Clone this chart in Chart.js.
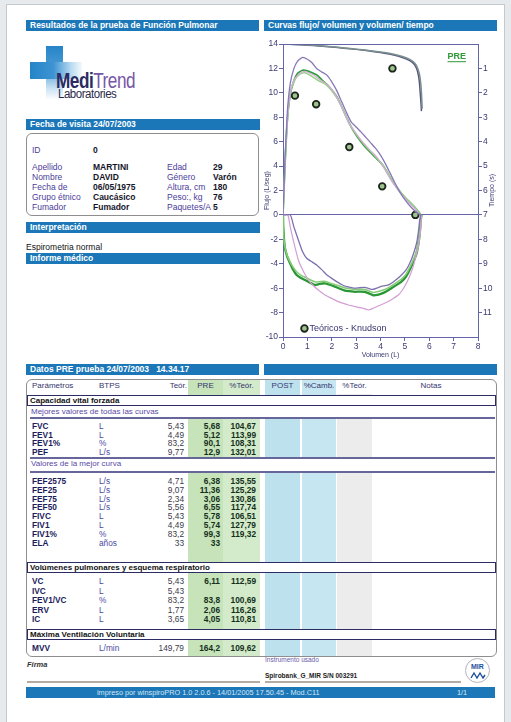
<!DOCTYPE html>
<html><head><meta charset="utf-8">
<script src="https://cdn.jsdelivr.net/npm/chart.js@4.4.1/dist/chart.umd.min.js"></script>
<style>
body{margin:0;background:#e6eaec;width:511px;height:722px;overflow:hidden;font-family:'Liberation Sans',Arial,sans-serif;position:relative;}
#page{position:absolute;left:6px;top:4px;width:499px;height:722px;background:#fff;border:1px solid #c2cad0;box-sizing:border-box;}
.bar{position:absolute;height:11px;background:#1b77b8;color:#fff;font-weight:bold;font-size:8.5px;line-height:11px;padding-left:4px;box-sizing:border-box;white-space:nowrap;}
.t{position:absolute;white-space:nowrap;line-height:10px;font-size:8.5px;}
.lab{color:#4b3d98;}
.val{color:#15152a;font-weight:bold;}
.box{position:absolute;border:1.5px solid #8e8e8e;border-radius:6px;box-sizing:border-box;}
.col{position:absolute;}
.sec{position:absolute;left:27px;width:469px;height:11px;border:1px solid #2c2c64;background:#fff;box-sizing:border-box;font-size:8px;font-weight:bold;color:#111;line-height:9px;padding-left:2px;white-space:nowrap;}
.sub{position:absolute;left:28px;width:467px;background:#fff;font-size:8px;color:#5a4aa6;white-space:nowrap;padding-left:3px;box-sizing:border-box;}
.hl{position:absolute;left:30px;width:465px;height:0;border-top:2px solid #66669a;}
</style></head>
<body>
<div id="page"></div>

<div class="bar" style="left:26px;top:20px;width:233px">Resultados de la prueba de Función Pulmonar</div>
<div class="bar" style="left:264px;top:20px;width:233px">Curvas flujo/ volumen y volumen/ tiempo</div>

<!-- logo -->
<div style="position:absolute;left:46px;top:46px;width:17px;height:54px;background:linear-gradient(180deg,#2585c8 0%,#4a9ad4 40%,#cfe5f4 80%,#fff 100%);"></div>
<div style="position:absolute;left:30px;top:62px;width:52px;height:17px;background:linear-gradient(90deg,#2585c8 0%,#3d93d2 45%,#bcdcf2 80%,#f4f9fd 100%);"></div>
<div style="position:absolute;left:56px;top:70px;font-size:22px;letter-spacing:-0.6px;line-height:22px;font-family:'Liberation Sans',sans-serif;white-space:nowrap;transform:scaleX(0.78);transform-origin:0 0;"><span style="color:#2b2b63;font-weight:bold">Medi</span><span style="color:#7656a6">Trend</span></div>
<div style="position:absolute;left:58px;top:88px;font-size:12.5px;letter-spacing:-0.5px;line-height:12px;color:#2a2a4a;white-space:nowrap;transform:scaleX(0.92);transform-origin:0 0;">Laboratories</div>

<div class="bar" style="left:26px;top:119px;width:234px">Fecha de visita 24/07/2003</div>
<div class="box" style="left:26px;top:133px;width:233px;height:83px"></div>
<div class="t lab" style="left:32px;top:145px">ID</div><div class="t val" style="left:93px;top:145px">0</div>
<div class="t lab" style="left:32px;top:162px">Apellido</div><div class="t val" style="left:93px;top:162px">MARTINI</div>
<div class="t lab" style="left:32px;top:172px">Nombre</div><div class="t val" style="left:93px;top:172px">DAVID</div>
<div class="t lab" style="left:32px;top:182px">Fecha de</div><div class="t val" style="left:93px;top:182px">06/05/1975</div>
<div class="t lab" style="left:32px;top:192px">Grupo étnico</div><div class="t val" style="left:93px;top:192px">Caucásico</div>
<div class="t lab" style="left:32px;top:202px">Fumador</div><div class="t val" style="left:93px;top:202px">Fumador</div>
<div class="t lab" style="left:167px;top:162px">Edad</div><div class="t val" style="left:213px;top:162px">29</div>
<div class="t lab" style="left:167px;top:172px">Género</div><div class="t val" style="left:213px;top:172px">Varón</div>
<div class="t lab" style="left:167px;top:182px">Altura, cm</div><div class="t val" style="left:213px;top:182px">180</div>
<div class="t lab" style="left:167px;top:192px">Peso:, kg</div><div class="t val" style="left:213px;top:192px">76</div>
<div class="t lab" style="left:167px;top:202px">Paquetes/A</div><div class="t val" style="left:213px;top:202px">5</div>

<div class="bar" style="left:26px;top:222px;width:234px">Interpretación</div>
<div class="t" style="left:26px;top:242px;color:#111">Espirometria normal</div>
<div class="bar" style="left:26px;top:253px;width:234px">Informe médico</div>

<canvas id="c" width="242" height="323" style="position:absolute;left:258px;top:36px"></canvas>

<div class="bar" style="left:26px;top:364px;width:233px">Datos PRE prueba 24/07/2003 &nbsp;&nbsp;14.34.17</div>
<div class="bar" style="left:264px;top:364px;width:233px"></div>

<div id="tbl"></div>

<!-- footer -->
<div class="t" style="left:27px;top:660px;font-size:7.5px;font-style:italic;font-weight:bold;color:#333">Firma</div>
<div style="position:absolute;left:27px;top:681px;width:233px;height:0;border-top:2px solid #b4aca4"></div>
<div class="t" style="left:265px;top:655px;font-size:6.5px;color:#6a5aa8">Instrumento usado</div>
<div class="t" style="left:265px;top:671px;font-size:6.5px;font-weight:bold;color:#222">Spirobank_G_MIR S/N 003291</div>
<div style="position:absolute;left:265px;top:681px;width:196px;height:0;border-top:2px solid #b4aca4"></div>
<div style="position:absolute;left:465px;top:658px;width:25px;height:25px;border:1.5px solid #b4b4be;border-radius:50%;box-sizing:border-box;background:#fff"></div>
<div class="t" style="left:471px;top:662px;font-size:7px;font-weight:bold;color:#1e4f9e">MIR</div>
<svg style="position:absolute;left:470px;top:671px" width="16" height="8"><polyline points="1,7 4,2 7,7 10,2 13,7 15,4" fill="none" stroke="#1e4f9e" stroke-width="1.4"/></svg>
<div class="bar" style="left:26px;top:687px;width:469px;font-weight:normal;padding:0"></div>
<div class="t" style="left:97px;top:687px;font-size:7.3px;line-height:11px;color:#d4e6f4">impreso por winspiroPRO 1.0 2.0.6 - 14/01/2005 17.50.45 - Mod.C11</div>
<div class="t" style="left:457px;top:687px;font-size:7.3px;line-height:11px;color:#d4e6f4">1/1</div>

<script>
// ---------- table (page text) ----------
const tblRows1 = [
  ['FVC','L','5,43','5,68','104,67'],
  ['FEV1','L','4,49','5,12','113,99'],
  ['FEV1%','%','83,2','90,1','108,31'],
  ['PEF','L/s','9,77','12,9','132,01']];
const tblRows2 = [
  ['FEF2575','L/s','4,71','6,38','135,55'],
  ['FEF25','L/s','9,07','11,36','125,29'],
  ['FEF75','L/s','2,34','3,06','130,86'],
  ['FEF50','L/s','5,56','6,55','117,74'],
  ['FIVC','L','5,43','5,78','106,51'],
  ['FIV1','L','4,49','5,74','127,79'],
  ['FIV1%','%','83,2','99,3','119,32'],
  ['ELA','años','33','33','']];
const tblRows3 = [
  ['VC','L','5,43','6,11','112,59'],
  ['IVC','L','5,43','',''],
  ['FEV1/VC','%','83,2','83,8','100,69'],
  ['ERV','L','1,77','2,06','116,26'],
  ['IC','L','3,65','4,05','110,81']];
const tblRows4 = [['MVV','L/min','149,79','164,2','109,62']];

(function buildTable(){
  const T = document.getElementById('tbl');
  let h = '';
  const add = s => { h += s; };
  add('<div class="col" style="left:188px;top:380px;width:35px;height:276px;background:#c6e3ba"></div>');
  add('<div class="col" style="left:223px;top:380px;width:37px;height:276px;background:#d3ebca"></div>');
  add('<div class="col" style="left:265px;top:380px;width:35px;height:276px;background:#bde2ee"></div>');
  add('<div class="col" style="left:302px;top:380px;width:34px;height:276px;background:#c6e7f1"></div>');
  add('<div class="col" style="left:337px;top:394px;width:35px;height:262px;background:#ececec"></div>');
  add('<div class="box" style="left:26px;top:379px;width:471px;height:278px"></div>');
  const hc = 'color:#35356e;font-size:8px;';
  const hy = 381;
  add(`<div class="t" style="${hc}left:32px;top:${hy}px">Parámetros</div>`);
  add(`<div class="t" style="${hc}left:99px;top:${hy}px">BTPS</div>`);
  add(`<div class="t" style="${hc}left:128px;top:${hy}px;width:59px;text-align:right">Teór.</div>`);
  add(`<div class="t" style="${hc}left:188px;top:${hy}px;width:35px;text-align:center">PRE</div>`);
  add(`<div class="t" style="${hc}left:223px;top:${hy}px;width:37px;text-align:center">%Teór.</div>`);
  add(`<div class="t" style="${hc}left:265px;top:${hy}px;width:35px;text-align:center">POST</div>`);
  add(`<div class="t" style="${hc}left:300px;top:${hy}px;width:38px;text-align:center">%Camb.</div>`);
  add(`<div class="t" style="${hc}left:337px;top:${hy}px;width:35px;text-align:center">%Teór.</div>`);
  add(`<div class="t" style="${hc}left:410px;top:${hy}px;width:42px;text-align:center">Notas</div>`);
  const sec = (top, txt) => add(`<div class="sec" style="top:${top}px">${txt}</div>`);
  const sub = (top, bottom, txt) => add(`<div class="sub" style="top:${top}px;height:${bottom-top}px;line-height:${bottom-top}px">${txt}</div>`);
  const hl = y => add(`<div class="hl" style="top:${y}px"></div>`);
  const rows = (arr, y0, step) => arr.forEach((r, i) => {
    const y = Math.round((y0 + i*step) - 5);
    add(`<div class="t" style="left:32px;top:${y}px;font-size:8.3px;font-weight:bold;color:#1c1c5c">${r[0]}</div>`);
    add(`<div class="t" style="left:99px;top:${y}px;font-size:8.3px;color:#4a4aa2">${r[1]}</div>`);
    add(`<div class="t" style="left:124px;top:${y}px;width:60px;text-align:right;font-size:8.3px;color:#3a3a4a">${r[2]}</div>`);
    add(`<div class="t" style="left:180px;top:${y}px;width:40px;text-align:right;font-size:8.3px;font-weight:bold;color:#14301a">${r[3]}</div>`);
    add(`<div class="t" style="left:215px;top:${y}px;width:41px;text-align:right;font-size:8.3px;font-weight:bold;color:#14301a">${r[4]}</div>`);
  });
  sec(395, 'Capacidad vital forzada');
  sub(406, 417, 'Mejores valores de todas las curvas');
  hl(417);
  rows(tblRows1, 426, 8.7);
  sub(457, 471, 'Valores de la mejor curva');
  hl(457); hl(471);
  rows(tblRows2, 481, 8.8);
  sec(562, 'Volúmenes pulmonares y esquema respiratorio');
  rows(tblRows3, 581, 9.5);
  sec(629, 'Máxima Ventilación Voluntaria');
  rows(tblRows4, 648, 0);
  T.innerHTML = h;
})();

// ---------- chart data (volume L, flow L/s) ----------
const purpleExp = [[0,0],[0.08,4.5],[0.18,8.5],[0.3,10.8],[0.45,12.0],[0.6,12.6],[0.8,12.9],[1.0,12.75],[1.2,12.45],[1.4,11.95],[1.6,11.7],[1.8,11.45],[2.0,10.9],[2.2,10.2],[2.4,9.3],[2.6,8.4],[2.8,7.6],[3.0,7.2],[3.2,6.8],[3.4,6.35],[3.6,5.9],[3.8,5.45],[4.0,4.9],[4.2,4.2],[4.4,3.4],[4.6,2.6],[4.8,1.85],[5.0,1.25],[5.2,0.75],[5.4,0.35],[5.6,0.05],[5.65,0]];
const greenExp = [[0,0],[0.08,4],[0.18,7.8],[0.3,9.9],[0.45,11.0],[0.6,11.6],[0.8,11.85],[1.0,11.8],[1.2,11.65],[1.4,11.45],[1.6,11.05],[1.8,10.7],[2.0,10.25],[2.2,9.7],[2.4,8.9],[2.6,8.0],[2.8,7.2],[3.0,6.55],[3.2,6.0],[3.4,5.5],[3.6,5.1],[3.8,4.7],[4.0,4.3],[4.2,3.75],[4.4,3.05],[4.6,2.45],[4.8,1.9],[5.0,1.45],[5.2,1.05],[5.4,0.65],[5.6,0.15],[5.65,0]];
const lightGreenExp = [[0,0],[0.1,4.8],[0.2,8.3],[0.32,10.2],[0.5,11.1],[0.7,11.55],[0.9,11.65],[1.1,11.45],[1.3,11.2],[1.5,10.95],[1.7,10.75],[1.9,10.4],[2.1,9.9],[2.3,9.3],[2.5,8.5],[2.7,7.55],[2.9,6.9],[3.1,6.35],[3.3,5.85],[3.5,5.4],[3.7,5.0],[3.9,4.55],[4.1,4.1],[4.3,3.45],[4.5,2.8],[4.7,2.2],[4.9,1.7],[5.1,1.25],[5.3,0.85],[5.5,0.4],[5.65,0]];
const pinkExp = [[0,0],[0.1,5],[0.22,8.8],[0.35,10.5],[0.5,11.2],[0.7,11.6],[0.9,11.75],[1.1,11.6],[1.3,11.4],[1.5,11.1],[1.7,10.85],[1.9,10.5],[2.1,10.0],[2.3,9.3],[2.5,8.4],[2.7,7.5],[2.9,6.95],[3.1,6.4],[3.3,5.9],[3.5,5.45],[3.7,5.05],[3.9,4.6],[4.1,4.0],[4.3,3.3],[4.5,2.65],[4.7,2.1],[4.9,1.6],[5.1,1.15],[5.3,0.75],[5.5,0.3],[5.62,0]];

const purpleInsp = [[0,0],[0.3,0],[0.45,-1.0],[0.63,-2.05],[0.8,-3.0],[0.97,-3.55],[1.15,-3.8],[1.38,-4.1],[1.6,-4.5],[1.79,-4.9],[2.0,-5.2],[2.2,-5.46],[2.4,-5.7],[2.61,-5.87],[2.8,-5.95],[2.95,-6.0],[3.15,-5.95],[3.36,-5.93],[3.55,-6.05],[3.7,-6.09],[3.9,-5.95],[4.11,-5.82],[4.3,-5.75],[4.45,-5.6],[4.65,-5.3],[4.86,-4.92],[5.05,-4.5],[5.2,-3.96],[5.35,-3.2],[5.48,-2.32],[5.56,-1.3],[5.61,-0.4],[5.65,0]];
const greenInsp = [[0,0],[0.01,-0.96],[0.07,-2.6],[0.17,-3.4],[0.29,-3.96],[0.42,-4.5],[0.56,-4.92],[0.72,-5.15],[0.9,-5.33],[1.1,-5.55],[1.31,-5.74],[1.5,-5.65],[1.72,-5.6],[1.92,-5.72],[2.13,-5.87],[2.34,-6.05],[2.54,-6.2],[2.75,-6.25],[2.95,-6.3],[3.15,-6.28],[3.36,-6.3],[3.55,-6.45],[3.7,-6.58],[3.87,-6.55],[4.04,-6.45],[4.25,-6.25],[4.45,-6.0],[4.65,-5.75],[4.86,-5.46],[5.05,-5.05],[5.2,-4.5],[5.35,-3.85],[5.48,-3.14],[5.56,-2.3],[5.61,-1.5],[5.65,-0.5],[5.68,0]];
const lightGreenInsp = [[0,0],[0.01,-1.2],[0.06,-2.4],[0.15,-3.2],[0.28,-3.8],[0.42,-4.3],[0.58,-4.7],[0.75,-4.95],[0.95,-5.15],[1.15,-5.35],[1.35,-5.5],[1.55,-5.45],[1.75,-5.45],[1.95,-5.6],[2.15,-5.72],[2.35,-5.85],[2.55,-5.98],[2.75,-6.05],[2.95,-6.1],[3.15,-6.08],[3.36,-6.12],[3.55,-6.25],[3.7,-6.35],[3.87,-6.3],[4.04,-6.2],[4.25,-6.05],[4.45,-5.82],[4.65,-5.55],[4.86,-5.25],[5.05,-4.85],[5.2,-4.3],[5.35,-3.65],[5.48,-2.95],[5.56,-2.1],[5.62,-1.2],[5.66,-0.4],[5.68,0]];
const pinkInsp = [[0,0],[0.2,0],[0.3,-1.0],[0.42,-2.05],[0.63,-3.69],[0.83,-4.6],[1.04,-5.33],[1.25,-5.8],[1.45,-6.15],[1.65,-6.45],[1.86,-6.7],[2.06,-6.9],[2.27,-7.1],[2.48,-7.25],[2.68,-7.38],[2.9,-7.48],[3.09,-7.57],[3.3,-7.65],[3.5,-7.79],[3.7,-7.65],[3.91,-7.46],[4.1,-7.3],[4.32,-7.1],[4.52,-6.85],[4.73,-6.56],[4.9,-6.15],[5.06,-5.6],[5.2,-5.0],[5.34,-4.23],[5.45,-3.4],[5.55,-2.6],[5.62,-1.7],[5.66,-0.96],[5.68,0]];

// volume (L) vs time (s) on the right axis
const volTime1 = [[0,0],[0.5,0.02],[1.0,0.05],[1.5,0.08],[2.0,0.12],[2.5,0.17],[3.0,0.22],[3.5,0.28],[4.0,0.35],[4.5,0.44],[4.9,0.55],[5.2,0.68],[5.4,0.85],[5.5,1.05],[5.56,1.3],[5.6,1.6],[5.63,2.0],[5.66,2.4],[5.68,2.75]];
const volTime2 = [[0,0],[0.5,0.02],[1.0,0.04],[1.5,0.07],[2.0,0.11],[2.5,0.16],[3.0,0.21],[3.5,0.27],[4.0,0.33],[4.5,0.41],[4.9,0.51],[5.2,0.63],[5.4,0.78],[5.52,0.98],[5.6,1.25],[5.65,1.6],[5.68,2.0],[5.7,2.4],[5.71,2.65]];

// predicted (Knudson) points
const predFlowVol = [[0.49,9.77],[1.36,9.07],[2.72,5.56],[4.07,2.34],[5.43,0]];
const predVolTime = [[4.49,1]];

const axisColor = '#6464a8';
const tickColor = '#3a3a72';
const xy = a => a.map(([x,y]) => ({x,y}));
const line = (d, color, w, axis) => ({data: xy(d), borderColor: color, borderWidth: w, pointRadius: 0, fill: false, tension: 0.15, yAxisID: axis || 'y'});

const decor = {
  id: 'decor',
  afterDraw(chart){
    const {ctx, chartArea: a, scales: {x, y}} = chart;
    ctx.save();
    ctx.strokeStyle = axisColor; ctx.lineWidth = 1;
    ctx.beginPath(); ctx.moveTo(a.left, a.top + 0.5); ctx.lineTo(a.right, a.top + 0.5); ctx.stroke();
    ctx.save();
    ctx.translate(a.right + 14, (a.top + a.bottom) / 2);
    ctx.rotate(-Math.PI / 2);
    ctx.fillStyle = tickColor; ctx.font = '7px "Liberation Sans", Arial';
    ctx.textAlign = 'center'; ctx.textBaseline = 'middle';
    ctx.fillText('Tiempo (s)', 0, 0);
    ctx.restore();
    const lx = x.getPixelForValue(0.88), ly = y.getPixelForValue(-9.3);
    ctx.beginPath(); ctx.arc(lx, ly, 3.3, 0, Math.PI * 2);
    ctx.fillStyle = '#9cc48c'; ctx.fill();
    ctx.lineWidth = 1.8; ctx.strokeStyle = '#1c241c'; ctx.stroke();
    ctx.fillStyle = '#33336e'; ctx.font = '9px "Liberation Sans", Arial';
    ctx.textAlign = 'left'; ctx.textBaseline = 'middle';
    ctx.fillText('Teóricos - Knudson', lx + 5, ly);
    const px = x.getPixelForValue(7.13), py = y.getPixelForValue(13.0);
    ctx.font = 'bold 9px "Liberation Sans", Arial';
    ctx.fillStyle = '#2d9a36'; ctx.textAlign = 'center';
    ctx.fillText('PRE', px, py);
    const w = ctx.measureText('PRE').width;
    ctx.strokeStyle = '#2d9a36'; ctx.lineWidth = 1;
    ctx.beginPath(); ctx.moveTo(px - w/2, py + 5.5); ctx.lineTo(px + w/2, py + 5.5); ctx.stroke();
    ctx.restore();
  }
};

const font8 = {family: '"Liberation Sans", Arial', size: 8.5};
new Chart(document.getElementById('c'), {
  type: 'line',
  data: {
    datasets: [
      line(volTime2, '#7a8f8e', 1.5, 'y2'),
      line(volTime1, '#56567e', 1.5, 'y2'),
      line(purpleExp, '#8878b8', 1.3),
      line(purpleInsp, '#7e70b0', 1.3),
      line(pinkExp, '#d8acd8', 1.2),
      line(pinkInsp, '#d49ed4', 1.2),
      line(lightGreenExp, '#96d488', 1.5),
      line(lightGreenInsp, '#86cc78', 1.6),
      line(greenExp, '#2f9a3a', 1.7),
      line(greenInsp, '#2a9636', 2.3),
      {data: xy(predFlowVol), showLine: false, pointRadius: 3.3, pointBorderWidth: 1.8, pointBorderColor: '#1c241c', pointBackgroundColor: '#9cc48c', yAxisID: 'y'},
      {data: xy(predVolTime), showLine: false, pointRadius: 3.3, pointBorderWidth: 1.8, pointBorderColor: '#1c241c', pointBackgroundColor: '#9cc48c', yAxisID: 'y2'}
    ]
  },
  options: {
    responsive: false, animation: false,
    layout: {padding: {top: 8, left: 0, right: 0, bottom: 0}},
    plugins: {legend: {display: false}, tooltip: {enabled: false}},
    scales: {
      x: {type: 'linear', min: 0, max: 8,
          ticks: {stepSize: 1, color: tickColor, font: font8, padding: 1, maxRotation: 0},
          grid: {drawOnChartArea: false, tickLength: 4, color: axisColor},
          border: {color: axisColor, width: 1},
          title: {display: true, text: 'Volumen (L)', color: tickColor, font: {family: '"Liberation Sans", Arial', size: 7}, padding: 0},
          afterFit: s => { s.height = 22; }},
      y: {type: 'linear', min: -10, max: 14,
          ticks: {stepSize: 2, color: tickColor, font: font8, padding: 1},
          grid: {color: c => (c.tick && c.tick.value === 0) ? axisColor : 'rgba(0,0,0,0)', tickColor: axisColor, tickLength: 4},
          border: {color: axisColor, width: 1},
          title: {display: true, text: 'Flujo (L/seg)', color: tickColor, font: {family: '"Liberation Sans", Arial', size: 7}, padding: {top: 5, bottom: 0}},
          afterFit: s => { s.width = 25; }},
      y2: {type: 'linear', position: 'right', min: 0, max: 12, reverse: true,
          ticks: {stepSize: 1, color: tickColor, font: font8, padding: 1},
          afterBuildTicks: s => { s.ticks = s.ticks.filter(t => t.value >= 1 && t.value <= 11); },
          grid: {drawOnChartArea: false, tickLength: 4, color: axisColor},
          border: {color: axisColor, width: 1},
          afterFit: s => { s.width = 22; }}
    }
  },
  plugins: [decor]
});
</script>
</body></html>
